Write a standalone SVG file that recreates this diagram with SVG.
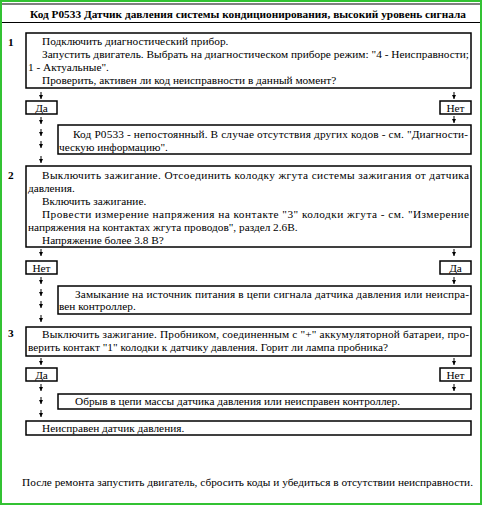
<svg xmlns="http://www.w3.org/2000/svg" width="482" height="505" viewBox="0 0 482 505">
<style>
.t{font-family:"Liberation Serif","DejaVu Serif",serif;font-size:11.3px;fill:#000}
.b{font-weight:bold}
.box{fill:#fff;stroke:#000;stroke-width:1.5}
.ar{stroke:#000;stroke-width:1;fill:none;marker-end:url(#ah)}
</style>
<defs>
<marker id="ah" markerWidth="4" markerHeight="4" refX="4" refY="2" orient="auto" markerUnits="userSpaceOnUse" viewBox="0 0 4 4">
<path d="M0,0 L4,2 L0,4 Z" fill="#000"/>
</marker>
</defs>
<rect x="0" y="0" width="482" height="505" fill="#fff"/>
<rect x="1" y="1" width="480" height="503" fill="none" stroke="#33c233" stroke-width="2"/>
<g id="header">
<line x1="2" y1="4" x2="480" y2="4" stroke="#000" stroke-width="1"/>
<line x1="2" y1="22.5" x2="480" y2="22.5" stroke="#000" stroke-width="1.2"/>
<text class="t b" x="30" y="18" textLength="436" lengthAdjust="spacing">Код P0533 Датчик давления системы кондиционирования, высокий уровень сигнала</text>
</g>
<g id="step1">
<text class="t b" x="8" y="46">1</text>
<rect class="box" x="26" y="33" width="445" height="55"/>
<text class="t" x="42" y="45">Подключить диагностический прибор.</text>
<text class="t" x="42" y="58" textLength="427" lengthAdjust="spacing">Запустить двигатель. Выбрать на диагностическом приборе режим: "4 - Неисправности;</text>
<text class="t" x="28" y="71">1 - Актуальные".</text>
<text class="t" x="42" y="84">Проверить, активен ли код неисправности в данный момент?</text>
</g>
<g id="yes1">
<rect class="box" x="26" y="101" width="31" height="13"/>
<text class="t" x="41.5" y="111.5" text-anchor="middle">Да</text>
</g>
<g id="no1">
<rect class="box" x="440" y="101" width="31" height="13"/>
<text class="t" x="455.5" y="111.5" text-anchor="middle">Нет</text>
</g>
<g id="res1">
<rect class="box" x="58" y="125" width="413" height="29"/>
<text class="t" x="73" y="138" textLength="395" lengthAdjust="spacing">Код P0533 - непостоянный. В случае отсутствия других кодов - см. "Диагности-</text>
<text class="t" x="59" y="150.5">ческую информацию".</text>
</g>
<g id="step2">
<text class="t b" x="8" y="179">2</text>
<rect class="box" x="26" y="166" width="445" height="81"/>
<text class="t" x="42" y="178.5" textLength="427" lengthAdjust="spacing">Выключить зажигание. Отсоединить колодку жгута системы зажигания от датчика</text>
<text class="t" x="28" y="191.5">давления.</text>
<text class="t" x="42" y="204.5">Включить зажигание.</text>
<text class="t" x="42" y="217.5" textLength="427" lengthAdjust="spacing">Провести измерение напряжения на контакте "3" колодки жгута - см. "Измерение</text>
<text class="t" x="28" y="230.5">напряжения на контактах жгута проводов", раздел 2.6В.</text>
<text class="t" x="42" y="243.5">Напряжение более 3.8 В?</text>
</g>
<g id="no2">
<rect class="box" x="26" y="261" width="31" height="13"/>
<text class="t" x="41.5" y="271.5" text-anchor="middle">Нет</text>
</g>
<g id="yes2">
<rect class="box" x="440" y="261" width="31" height="13"/>
<text class="t" x="455.5" y="271.5" text-anchor="middle">Да</text>
</g>
<g id="res2">
<rect class="box" x="58" y="286" width="413" height="28"/>
<text class="t" x="75" y="298" textLength="394" lengthAdjust="spacing">Замыкание на источник питания в цепи сигнала датчика давления или неиспра-</text>
<text class="t" x="59" y="310">вен контроллер.</text>
</g>
<g id="step3">
<text class="t b" x="8" y="337">3</text>
<rect class="box" x="26" y="327" width="445" height="29"/>
<text class="t" x="42" y="338" textLength="427" lengthAdjust="spacing">Выключить зажигание. Пробником, соединенным с "+" аккумуляторной батареи, про-</text>
<text class="t" x="28" y="351">верить контакт "1" колодки к датчику давления. Горит ли лампа пробника?</text>
</g>
<g id="yes3">
<rect class="box" x="26" y="368" width="31" height="13"/>
<text class="t" x="41.5" y="378.5" text-anchor="middle">Да</text>
</g>
<g id="no3">
<rect class="box" x="440" y="368" width="31" height="13"/>
<text class="t" x="455.5" y="378.5" text-anchor="middle">Нет</text>
</g>
<g id="res3">
<rect class="box" x="58" y="394" width="413" height="15"/>
<text class="t" x="75" y="405">Обрыв в цепи массы датчика давления или неисправен контроллер.</text>
</g>
<g id="res4">
<rect class="box" x="26" y="421" width="445" height="14"/>
<text class="t" x="42" y="432">Неисправен датчик давления.</text>
</g>
<g id="footer">
<text class="t" x="22" y="486" textLength="451" lengthAdjust="spacing">После ремонта запустить двигатель, сбросить коды и убедиться в отсутствии неисправности.</text>
</g>
<g id="connectors">
<line class="ar" x1="41" y1="92" x2="41" y2="99"/>
<line class="ar" x1="454" y1="92" x2="454" y2="99"/>
<line class="ar" x1="41" y1="117" x2="41" y2="124"/>
<line class="ar" x1="41" y1="129" x2="41" y2="136"/>
<line class="ar" x1="41" y1="141" x2="41" y2="148"/>
<line class="ar" x1="41" y1="156" x2="41" y2="163"/>
<line class="ar" x1="454" y1="116" x2="454" y2="123"/>
<line class="ar" x1="41" y1="249" x2="41" y2="256"/>
<line class="ar" x1="454" y1="249" x2="454" y2="256"/>
<line class="ar" x1="41" y1="277" x2="41" y2="284"/>
<line class="ar" x1="41" y1="289" x2="41" y2="296"/>
<line class="ar" x1="41" y1="301" x2="41" y2="308"/>
<line class="ar" x1="41" y1="315" x2="41" y2="322"/>
<line class="ar" x1="454" y1="277" x2="454" y2="284"/>
<line class="ar" x1="41" y1="358" x2="41" y2="365"/>
<line class="ar" x1="454" y1="358" x2="454" y2="365"/>
<line class="ar" x1="41" y1="384" x2="41" y2="391"/>
<line class="ar" x1="41" y1="397" x2="41" y2="404"/>
<line class="ar" x1="41" y1="410" x2="41" y2="417"/>
<line class="ar" x1="454" y1="384" x2="454" y2="391"/>
</g>
</svg>
